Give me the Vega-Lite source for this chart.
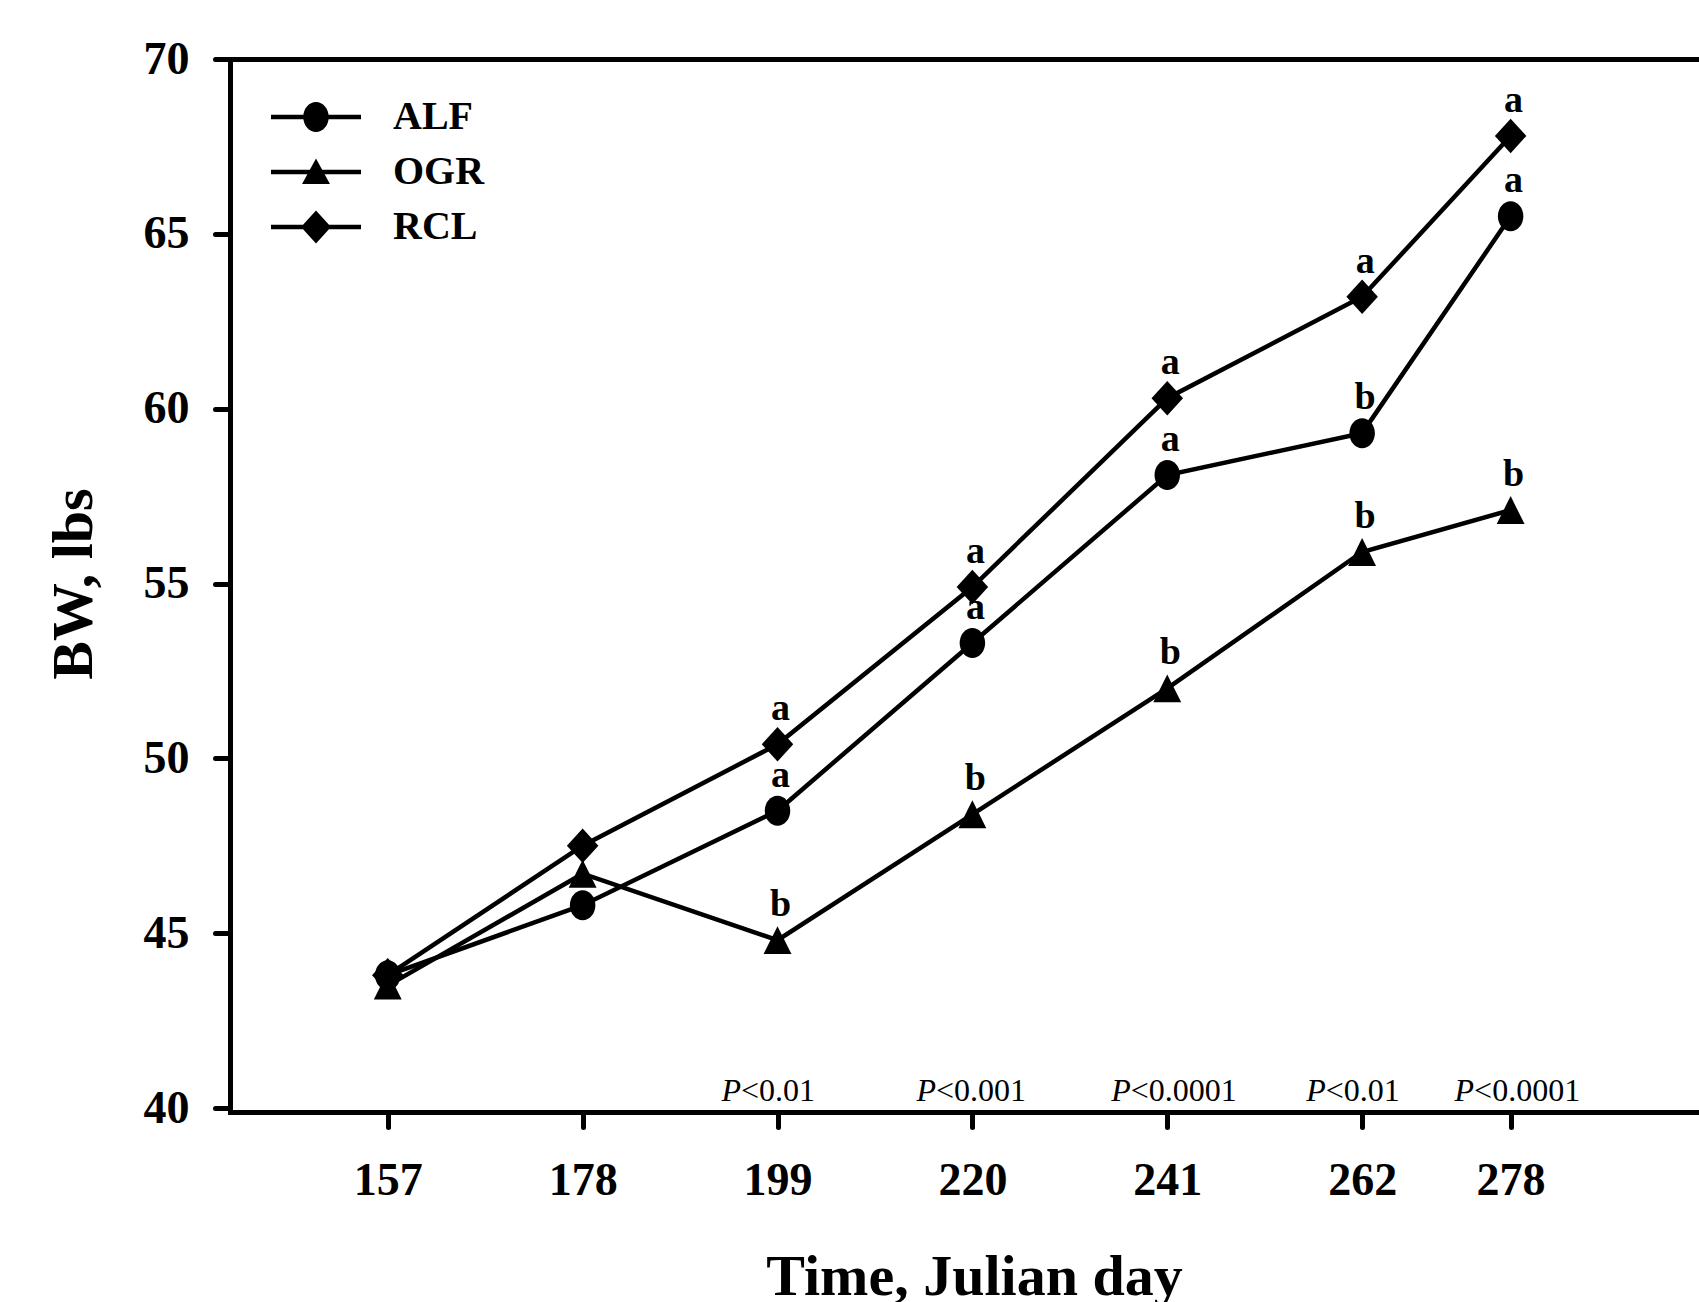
{
  "$schema": "https://vega.github.io/schema/vega-lite/v6.json",
  "autosize": "none",
  "width": 1469,
  "height": 1049,
  "padding": {"left": 230, "top": 59, "right": 0, "bottom": 194},
  "background": "white",
  "config": {
    "view": {"stroke": null},
    "font": "Liberation Serif",
    "axis": {"grid": false, "domainColor": "black", "tickColor": "black", "labelColor": "black", "titleColor": "black"}
  },
  "datasets": {
    "bw": [
      {"day": 157, "diet": "ALF", "bw": 43.8, "sig": ""},
      {"day": 178, "diet": "ALF", "bw": 45.8, "sig": ""},
      {"day": 199, "diet": "ALF", "bw": 48.5, "sig": "a"},
      {"day": 220, "diet": "ALF", "bw": 53.3, "sig": "a"},
      {"day": 241, "diet": "ALF", "bw": 58.1, "sig": "a"},
      {"day": 262, "diet": "ALF", "bw": 59.3, "sig": "b"},
      {"day": 278, "diet": "ALF", "bw": 65.5, "sig": "a"},
      {"day": 157, "diet": "OGR", "bw": 43.5, "sig": ""},
      {"day": 178, "diet": "OGR", "bw": 46.7, "sig": ""},
      {"day": 199, "diet": "OGR", "bw": 44.8, "sig": "b"},
      {"day": 220, "diet": "OGR", "bw": 48.4, "sig": "b"},
      {"day": 241, "diet": "OGR", "bw": 52.0, "sig": "b"},
      {"day": 262, "diet": "OGR", "bw": 55.9, "sig": "b"},
      {"day": 278, "diet": "OGR", "bw": 57.1, "sig": "b"},
      {"day": 157, "diet": "RCL", "bw": 43.8, "sig": ""},
      {"day": 178, "diet": "RCL", "bw": 47.5, "sig": ""},
      {"day": 199, "diet": "RCL", "bw": 50.4, "sig": "a"},
      {"day": 220, "diet": "RCL", "bw": 54.9, "sig": "a"},
      {"day": 241, "diet": "RCL", "bw": 60.3, "sig": "a"},
      {"day": 262, "diet": "RCL", "bw": 63.2, "sig": "a"},
      {"day": 278, "diet": "RCL", "bw": 67.8, "sig": "a"}
    ],
    "pv": [
      {"day": 199, "p": "<0.01"},
      {"day": 220, "p": "<0.001"},
      {"day": 241, "p": "<0.0001"},
      {"day": 262, "p": "<0.01"},
      {"day": 278, "p": "<0.0001"}
    ]
  },
  "resolve": {"axis": {"x": "independent"}, "scale": {"shape": "independent"}, "legend": {"shape": "independent"}},
  "layer": [
    {
      "data": {"name": "bw"},
      "mark": {"type": "line", "color": "black", "strokeWidth": 4.5},
      "encoding": {
        "x": {"field": "day", "type": "quantitative",
          "scale": {"domain": [140, 298.3], "nice": false, "zero": false},
          "axis": {"values": [157, 178, 199, 220, 241, 262, 278], "offset": 4,
            "domainWidth": 5, "domainCap": "square", "tickSize": 15, "tickWidth": 5, "tickCap": "round",
            "labelFont": "Liberation Serif", "labelFontWeight": "bold", "labelFontSize": 46, "labelPadding": 31,
            "title": "Time, Julian day", "titleFont": "Liberation Serif", "titleFontWeight": "bold", "titleFontSize": 58,
            "titlePadding": 45, "titleX": 744}},
        "y": {"field": "bw", "type": "quantitative",
          "scale": {"domain": [40, 70], "nice": false, "zero": false},
          "axis": {"values": [40, 45, 50, 55, 60, 65, 70],
            "domainWidth": 5, "domainCap": "square", "tickSize": 15, "tickWidth": 5, "tickCap": "round",
            "labelFont": "Liberation Serif", "labelFontWeight": "bold", "labelFontSize": 46, "labelPadding": 26,
            "title": "BW, lbs", "titleFont": "Liberation Serif", "titleFontWeight": "bold", "titleFontSize": 58,
            "titlePadding": 40}},
        "detail": {"field": "diet"}
      }
    },
    {
      "data": {"name": "bw"},
      "mark": {"type": "point", "filled": true, "size": 900, "color": "black", "opacity": 1},
      "encoding": {
        "x": {"field": "day", "type": "quantitative",
          "scale": {"domain": [140, 298.3], "nice": false, "zero": false},
          "axis": {"orient": "top", "labels": false, "ticks": false, "title": null, "domainWidth": 5, "domainCap": "square"}},
        "y": {"field": "bw", "type": "quantitative"},
        "shape": {"field": "diet", "type": "nominal",
          "scale": {"domain": ["ALF", "OGR", "RCL"],
            "range": [
              "M-0.85,0A0.85,1,0,1,1,0.85,0A0.85,1,0,1,1,-0.85,0Z",
              "M0,-0.93L0.93,0.93L-0.93,0.93Z",
              "M0,-1.15L1.05,0L0,1.15L-1.05,0Z"
            ]},
          "legend": null}
      }
    },
    {
      "data": {"name": "bw"},
      "transform": [{"filter": "false"}],
      "mark": {"type": "point", "filled": true, "size": 900, "color": "black", "opacity": 1},
      "encoding": {
        "x": {"field": "day", "type": "quantitative", "scale": {"domain": [140, 298.3], "nice": false, "zero": false}, "axis": null},
        "y": {"field": "bw", "type": "quantitative"},
        "shape": {"field": "diet", "type": "nominal",
          "scale": {"domain": ["ALF", "OGR", "RCL"],
            "range": [
              "M-3,-0.15H3V0.15H-3ZM-0.85,0A0.85,1,0,1,1,0.85,0A0.85,1,0,1,1,-0.85,0Z",
              "M-3,-0.15H3V0.15H-3ZM0,-0.9L0.93,0.8L-0.93,0.8Z",
              "M-3,-0.15H3V0.15H-3ZM0,-1.1L1.0,0L0,1.1L-1.0,0Z"
            ]},
          "legend": {
            "title": null, "orient": "none", "legendX": 66, "legendY": 38, "padding": 0,
            "symbolSize": 900, "rowPadding": 15, "labelOffset": 57,
            "symbolFillColor": "black", "symbolOpacity": 1,
            "labelFont": "Liberation Serif", "labelFontWeight": "bold", "labelFontSize": 40, "labelColor": "black"
          }}
      }
    },
    {
      "data": {"name": "bw"},
      "transform": [{"filter": "datum.sig != ''"}],
      "mark": {"type": "text", "font": "Liberation Serif", "fontWeight": "bold", "fontSize": 38, "color": "black",
        "align": "center", "baseline": "alphabetic", "dy": -24, "dx": 3},
      "encoding": {
        "x": {"field": "day", "type": "quantitative", "scale": {"domain": [140, 298.3], "nice": false, "zero": false}, "axis": null},
        "y": {"field": "bw", "type": "quantitative"},
        "text": {"field": "sig"}
      }
    },
    {
      "data": {"name": "pv"},
      "mark": {"type": "text", "text": "P", "font": "Liberation Serif", "fontStyle": "italic", "fontSize": 32, "color": "black",
        "align": "left", "baseline": "alphabetic", "dx": -56, "dy": -7},
      "encoding": {
        "x": {"field": "day", "type": "quantitative", "scale": {"domain": [140, 298.3], "nice": false, "zero": false}, "axis": null},
        "y": {"datum": 40, "type": "quantitative"}
      }
    },
    {
      "data": {"name": "pv"},
      "mark": {"type": "text", "font": "Liberation Serif", "fontSize": 32, "color": "black",
        "align": "left", "baseline": "alphabetic", "dx": -36.5, "dy": -7},
      "encoding": {
        "x": {"field": "day", "type": "quantitative", "scale": {"domain": [140, 298.3], "nice": false, "zero": false}, "axis": null},
        "y": {"datum": 40, "type": "quantitative"},
        "text": {"field": "p"}
      }
    }
  ]
}
